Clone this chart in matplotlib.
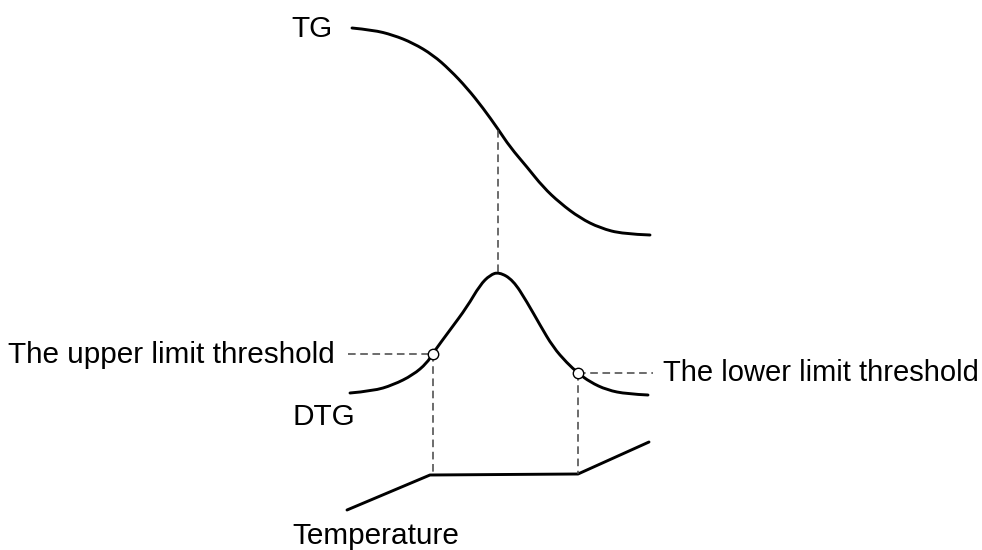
import matplotlib
matplotlib.use("Agg")
import matplotlib.pyplot as plt
from matplotlib.path import Path
from matplotlib.patches import PathPatch

# Schematic curves (in image-pixel units)
tg_x = [352, 373, 393, 413, 433, 450, 467, 483, 498, 510, 527, 543, 560, 580, 600, 623, 650]
tg_y = [28, 30, 35, 43, 55, 70, 88, 108, 129, 147, 167, 187, 203, 218, 228, 234, 235]

dtg_x = [350, 373, 393, 413, 427, 433, 450, 467, 480, 490, 499, 513, 527, 540, 553, 567, 578, 590, 607, 627, 648]
dtg_y = [393, 391, 385, 375, 363, 353, 330, 307, 285, 275, 272, 280, 302, 325, 347, 363, 373, 382, 390, 394, 395]

temp_x = [347, 430, 578, 649]
temp_y = [510, 475, 474, 442]

upper_pt = (433, 354)
lower_pt = (578, 373)
peak_x = 498
tg_inflection_y = 130
dtg_peak_y = 272
upper_dash_start = 348
lower_dash_end = 653

labels = {
    "TG": (333, 37, "right", 21.4),
    "DTG": (293, 425, "left", 21.4),
    "Temperature": (292, 544, "left", 21.4),
    "The upper limit threshold": (335, 363, "right", 21.4),
    "The lower limit threshold": (663, 381, "left", 21.0),
}

fig = plt.figure(figsize=(9.82, 5.5), dpi=100)
ax = fig.add_axes([0, 0, 1, 1])
ax.set_xlim(0, 982)
ax.set_ylim(550, 0)
ax.axis("off")

lw = 2.1
dash_kw = dict(color="#444444", lw=1.1, dashes=(5, 3))


def smooth_curve(xs, ys):
    # quadratic Bezier through midpoints, read points act as control points
    pts = list(zip(xs, ys))
    verts = [pts[0]]
    codes = [Path.MOVETO]
    for i in range(1, len(pts) - 1):
        mid = ((pts[i][0] + pts[i + 1][0]) / 2, (pts[i][1] + pts[i + 1][1]) / 2)
        if i == len(pts) - 2:
            mid = pts[i + 1]
        verts += [pts[i], mid]
        codes += [Path.CURVE3, Path.CURVE3]
    patch = PathPatch(Path(verts, codes), facecolor="none", edgecolor="black",
                      lw=lw, capstyle="round", joinstyle="round")
    ax.add_patch(patch)


smooth_curve(tg_x, tg_y)
smooth_curve(dtg_x, dtg_y)
ax.plot(temp_x, temp_y, color="black", lw=lw, solid_capstyle="round")

# dashed guides
ax.plot([peak_x, peak_x], [tg_inflection_y, dtg_peak_y], **dash_kw)
ax.plot([upper_dash_start, upper_pt[0]], [upper_pt[1], upper_pt[1]], **dash_kw)
ax.plot([upper_pt[0], upper_pt[0]], [upper_pt[1], temp_y[1]], **dash_kw)
ax.plot([lower_pt[0], lower_dash_end], [lower_pt[1], lower_pt[1]], **dash_kw)
ax.plot([lower_pt[0], lower_pt[0]], [lower_pt[1], temp_y[2]], **dash_kw)

ax.plot([upper_pt[0], lower_pt[0]], [upper_pt[1], lower_pt[1]], linestyle="none",
        marker="o", markersize=7.5, markerfacecolor="white",
        markeredgecolor="black", markeredgewidth=1.0, zorder=5)

for txt, (x, y, ha, fs) in labels.items():
    ax.text(x, y, txt, ha=ha, va="baseline", fontsize=fs,
            family=["Liberation Sans", "DejaVu Sans"], color="black")

fig.savefig("out.png", dpi=100, facecolor="white")
